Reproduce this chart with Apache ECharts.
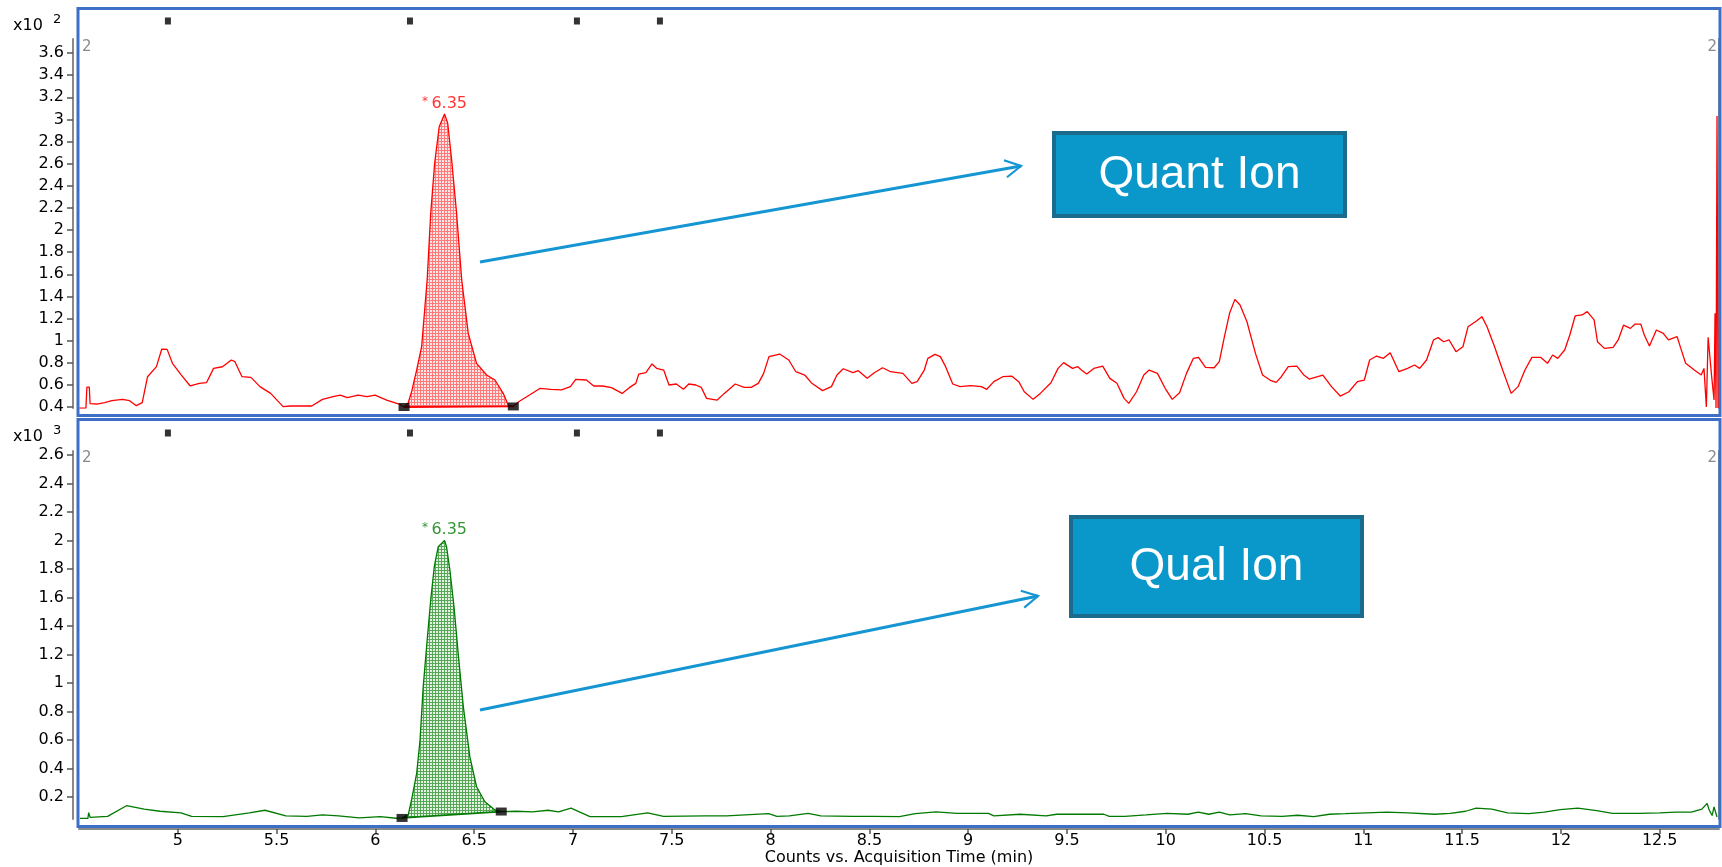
<!DOCTYPE html>
<html>
<head>
<meta charset="utf-8">
<title>Quant / Qual ion chromatograms</title>
<script src="https://cdn.jsdelivr.net/npm/echarts@6.0.0/dist/echarts.min.js"></script>
<style>
  html, body { margin: 0; padding: 0; background: #ffffff; }
  #chart { width: 1722px; height: 867px; }
</style>
</head>
<body>
<div id="chart"></div>
<script>
// ---- Quant ion trace (counts x10^2 vs. acquisition time, min) ----
const quantTime = [
  4.502, 4.535, 4.540, 4.552, 4.556, 4.59, 4.63, 4.666, 4.72, 4.756, 4.79, 4.82, 4.847, 4.892, 4.919, 4.946,
  4.973, 5.018, 5.063, 5.109, 5.145, 5.181, 5.226, 5.271, 5.289, 5.325, 5.37, 5.416, 5.47, 5.533, 5.57, 5.678,
  5.732, 5.786, 5.822, 5.858, 5.913, 5.958, 5.998, 6.057, 6.12, 6.145, 6.166, 6.185, 6.209, 6.234, 6.262, 6.28,
  6.30, 6.323, 6.35, 6.366, 6.386, 6.411, 6.437, 6.47, 6.512, 6.563, 6.605, 6.647, 6.672, 6.698, 6.725, 6.78,
  6.834, 6.888, 6.942, 6.987, 7.014, 7.068, 7.105, 7.15, 7.195, 7.249, 7.285, 7.318, 7.333, 7.369, 7.40, 7.423,
  7.459, 7.486, 7.523, 7.559, 7.586, 7.622, 7.649, 7.676, 7.73, 7.766, 7.821, 7.866, 7.902, 7.938, 7.965, 7.992,
  8.046, 8.092, 8.128, 8.173, 8.209, 8.263, 8.308, 8.336, 8.368, 8.417, 8.444, 8.489, 8.525, 8.567, 8.607, 8.67,
  8.715, 8.742, 8.778, 8.796, 8.832, 8.859, 8.886, 8.922, 8.959, 9.013, 9.067, 9.094, 9.13, 9.175, 9.22, 9.256,
  9.284, 9.329, 9.365, 9.419, 9.455, 9.483, 9.528, 9.555, 9.573, 9.6, 9.636, 9.681, 9.717, 9.753, 9.789, 9.813,
  9.852, 9.889, 9.916, 9.958, 9.997, 10.033, 10.07, 10.105, 10.14, 10.166, 10.201, 10.245, 10.271, 10.297, 10.323, 10.35,
  10.376, 10.411, 10.454, 10.49, 10.533, 10.559, 10.585, 10.62, 10.664, 10.699, 10.726, 10.769, 10.795, 10.839, 10.883, 10.927,
  10.97, 11.005, 11.032, 11.067, 11.102, 11.136, 11.18, 11.224, 11.259, 11.285, 11.32, 11.355, 11.378, 11.407, 11.434, 11.469,
  11.504, 11.53, 11.574, 11.6, 11.626, 11.661, 11.705, 11.748, 11.783, 11.818, 11.853, 11.897, 11.932, 11.958, 11.984, 12.019,
  12.045, 12.072, 12.107, 12.133, 12.168, 12.185, 12.22, 12.264, 12.29, 12.317, 12.352, 12.375, 12.404, 12.422, 12.448, 12.483,
  12.518, 12.544, 12.588, 12.605, 12.631, 12.675, 12.71, 12.724, 12.736, 12.745, 12.754, 12.763, 12.775, 12.78, 12.785, 12.79,
  12.795
];
const quantCounts = [
  0.39, 0.39, 0.58, 0.58, 0.43, 0.427, 0.44, 0.457, 0.469, 0.457, 0.412, 0.44, 0.674, 0.765, 0.924, 0.921,
  0.795, 0.689, 0.59, 0.614, 0.62, 0.749, 0.764, 0.825, 0.81, 0.674, 0.668, 0.584, 0.523, 0.403, 0.409, 0.409,
  0.469, 0.493, 0.508, 0.484, 0.508, 0.493, 0.508, 0.463, 0.427, 0.40, 0.436, 0.55, 0.735, 0.945, 1.548, 2.15,
  2.606, 2.934, 3.05, 2.965, 2.633, 2.15, 1.548, 1.066, 0.795, 0.689, 0.644, 0.524, 0.418, 0.405, 0.448, 0.508,
  0.569, 0.56, 0.554, 0.584, 0.65, 0.644, 0.59, 0.59, 0.575, 0.523, 0.575, 0.614, 0.698, 0.71, 0.789, 0.75,
  0.734, 0.599, 0.608, 0.56, 0.608, 0.599, 0.578, 0.478, 0.463, 0.523, 0.608, 0.578, 0.578, 0.614, 0.704, 0.855,
  0.879, 0.825, 0.719, 0.689, 0.614, 0.548, 0.584, 0.689, 0.746, 0.71, 0.728, 0.659, 0.71, 0.755, 0.719, 0.704,
  0.614, 0.629, 0.734, 0.84, 0.876, 0.855, 0.765, 0.608, 0.584, 0.593, 0.584, 0.56, 0.629, 0.674, 0.68, 0.629,
  0.538, 0.469, 0.523, 0.62, 0.749, 0.801, 0.749, 0.764, 0.734, 0.698, 0.749, 0.77, 0.659, 0.614, 0.478, 0.433,
  0.538, 0.689, 0.734, 0.704, 0.569, 0.469, 0.529, 0.704, 0.84, 0.849, 0.758, 0.755, 0.81, 1.036, 1.247, 1.373,
  1.322, 1.171, 0.885, 0.689, 0.638, 0.623, 0.674, 0.765, 0.77, 0.689, 0.653, 0.674, 0.689, 0.584, 0.499, 0.538,
  0.629, 0.644, 0.825, 0.861, 0.84, 0.891, 0.719, 0.749, 0.78, 0.749, 0.825, 1.006, 1.027, 0.99, 1.006, 0.9,
  0.945, 1.126, 1.18, 1.217, 1.126, 0.96, 0.734, 0.523, 0.584, 0.734, 0.849, 0.849, 0.795, 0.87, 0.84, 0.915,
  1.051, 1.223, 1.232, 1.262, 1.187, 0.99, 0.93, 0.939, 1.006, 1.141, 1.111, 1.15, 1.15, 1.051, 0.951, 1.096,
  1.066, 1.006, 1.036, 0.939, 0.795, 0.734, 0.689, 0.749, 0.40, 1.03, 1.02, 0.674, 0.463, 1.247, 0.39, 3.03,
  0.39
];

// ---- Qual ion trace (counts x10^3 vs. acquisition time, min) ----
const qualTime = [
  4.505, 4.545, 4.549, 4.556, 4.645, 4.74, 4.83, 4.91, 5.016, 5.07, 5.229, 5.362, 5.441, 5.547, 5.653, 5.733,
  5.813, 5.919, 6.025, 6.104, 6.135, 6.166, 6.183, 6.209, 6.226, 6.242, 6.262, 6.28, 6.298, 6.318, 6.35, 6.36,
  6.377, 6.398, 6.419, 6.445, 6.478, 6.512, 6.554, 6.605, 6.637, 6.715, 6.794, 6.874, 6.927, 6.99, 7.086, 7.245,
  7.378, 7.458, 7.67, 7.777, 7.99, 8.032, 8.095, 8.19, 8.254, 8.413, 8.52, 8.652, 8.732, 8.838, 8.944, 9.103,
  9.13, 9.263, 9.395, 9.448, 9.687, 9.714, 9.793, 9.9, 10.006, 10.112, 10.165, 10.218, 10.271, 10.324, 10.404, 10.483,
  10.589, 10.669, 10.749, 10.828, 10.908, 11.014, 11.12, 11.226, 11.36, 11.44, 11.518, 11.571, 11.65, 11.73, 11.836, 11.916,
  11.996, 12.086, 12.181, 12.261, 12.394, 12.5, 12.58, 12.66, 12.713, 12.74, 12.75, 12.765, 12.775, 12.79
];
const qualCounts = [
  0.05, 0.05, 0.09, 0.057, 0.064, 0.139, 0.115, 0.10, 0.089, 0.064, 0.062, 0.089, 0.107, 0.068, 0.064, 0.074,
  0.068, 0.053, 0.062, 0.051, 0.053, 0.074, 0.179, 0.366, 0.60, 0.974, 1.30, 1.582, 1.816, 1.957, 2.0, 1.957,
  1.793, 1.535, 1.208, 0.834, 0.483, 0.272, 0.167, 0.109, 0.098, 0.10, 0.096, 0.107, 0.096, 0.122, 0.062, 0.062,
  0.089, 0.064, 0.068, 0.068, 0.083, 0.064, 0.068, 0.085, 0.068, 0.064, 0.064, 0.062, 0.083, 0.096, 0.085, 0.085,
  0.068, 0.079, 0.068, 0.079, 0.079, 0.064, 0.064, 0.074, 0.085, 0.079, 0.094, 0.079, 0.094, 0.074, 0.083, 0.068,
  0.064, 0.072, 0.062, 0.079, 0.083, 0.089, 0.094, 0.089, 0.079, 0.085, 0.10, 0.122, 0.115, 0.089, 0.083, 0.094,
  0.111, 0.122, 0.105, 0.085, 0.085, 0.089, 0.094, 0.094, 0.115, 0.154, 0.11, 0.07, 0.13, 0.06
];

// Integration baselines (start / end of the integrated peak)
const quantBaseline = [[6.145, 0.40], [6.698, 0.405]];
const qualBaseline = [[6.135, 0.053], [6.637, 0.098]];

// Peak apex (retention time, height) and its annotation
const quantApex = [6.35, 3.05];
const qualApex = [6.35, 2.0];
const apexLabel = '6.35';

// Time-segment markers shown along the top of each panel
const segmentTimes = [4.95, 6.175, 7.02, 7.44];

// Axis ticks
const timeTicks = [5, 5.5, 6, 6.5, 7, 7.5, 8, 8.5, 9, 9.5, 10, 10.5, 11, 11.5, 12, 12.5];
const quantTicks = [0.4, 0.6, 0.8, 1, 1.2, 1.4, 1.6, 1.8, 2, 2.2, 2.4, 2.6, 2.8, 3, 3.2, 3.4, 3.6];
const qualTicks = [0.2, 0.4, 0.6, 0.8, 1, 1.2, 1.4, 1.6, 1.8, 2, 2.2, 2.4, 2.6];

// ---------------------------------------------------------------
const FONT = '"DejaVu Sans", Verdana, sans-serif';
const AXIS_GREY = '#8a8a8a';
const FRAME_BLUE = '#3d6fc7';
const ARROW_BLUE = '#1596d2';

const zip = (a, b) => a.map((t, i) => [t, b[i]]);

function hatch(bg, line) {
  const c = document.createElement('canvas');
  c.width = 3; c.height = 3;
  const g = c.getContext('2d');
  g.fillStyle = bg; g.fillRect(0, 0, 3, 3);
  g.fillStyle = line; g.fillRect(0, 0, 3, 1); g.fillRect(0, 0, 1, 3);
  return { image: c, repeat: 'repeat' };
}

// Polygon between the trace and the integration baseline
function peakArea(times, vals, base, fill) {
  return function (params, api) {
    const pts = [api.coord(base[0])];
    for (let i = 0; i < times.length; i++) {
      if (times[i] > base[0][0] && times[i] < base[1][0]) pts.push(api.coord([times[i], vals[i]]));
    }
    pts.push(api.coord(base[1]));
    return { type: 'polygon', shape: { points: pts }, style: { fill: fill, stroke: null } };
  };
}

const fmtTick = v => String(+(+v).toFixed(1));

function leftAxis(grid, min, max, ticks) {
  return {
    type: 'value', gridIndex: grid, position: 'left', min: min, max: max, offset: 6,
    axisLine: { show: true, lineStyle: { color: AXIS_GREY, width: 2 } },
    axisTick: { show: true, inside: false, length: 6, customValues: ticks, lineStyle: { color: '#555', width: 1.5 } },
    axisLabel: { show: true, customValues: ticks, margin: 9, color: '#000', fontFamily: FONT, fontSize: 16, formatter: fmtTick },
    splitLine: { show: false }
  };
}
function rightAxis(grid, min, max) {
  return {
    type: 'value', gridIndex: grid, position: 'right', min: min, max: max,
    axisLine: { show: true, lineStyle: { color: AXIS_GREY, width: 2 } },
    axisTick: { show: false }, axisLabel: { show: false }, splitLine: { show: false }
  };
}

const Q_MIN = 0.391, Q_MAX = 3.727;
const L_MIN = 0.0456, L_MAX = 2.628;

function tracePanel(xi, yi, times, vals, base, apex, color, fillPattern) {
  return [
    {
      type: 'custom', coordinateSystem: 'cartesian2d', xAxisIndex: xi, yAxisIndex: yi,
      data: [base[0]], renderItem: peakArea(times, vals, base, fillPattern), z: 2, silent: true
    },
    {
      type: 'line', xAxisIndex: xi, yAxisIndex: yi, data: zip(times, vals),
      showSymbol: false, symbol: 'none', lineStyle: { color: color, width: 1.3 }, z: 3, animation: false
    },
    {
      type: 'line', xAxisIndex: xi, yAxisIndex: yi, data: base,
      showSymbol: false, symbol: 'none', lineStyle: { color: color, width: 1.8 }, z: 3, animation: false
    },
    {
      type: 'scatter', xAxisIndex: xi, yAxisIndex: yi, data: base,
      symbol: 'rect', symbolSize: [11, 8], itemStyle: { color: '#000' }, z: 4, clip: false
    },
    {
      type: 'scatter', xAxisIndex: xi, yAxisIndex: yi, data: [apex],
      symbolSize: 1, itemStyle: { color: 'rgba(0,0,0,0)' }, z: 4,
      label: {
        show: true, position: 'top', distance: 2,
        formatter: '{s|*} {n|' + apexLabel + '}',
        rich: {
          s: { fontFamily: FONT, fontSize: 12, color: color, verticalAlign: 'top', padding: [0, 0, 4, 0] },
          n: { fontFamily: FONT, fontSize: 16, color: color }
        }
      }
    },
    {
      type: 'scatter', xAxisIndex: xi, yAxisIndex: yi,
      data: segmentTimes.map(t => [t, yi === 0 ? Q_MAX : L_MAX]),
      symbol: 'rect', symbolSize: [6, 7], symbolOffset: [0, -18], itemStyle: { color: '#000' }, clip: false, z: 4
    }
  ];
}

// Annotation arrow: shaft plus an open chevron head
function arrow(x1, y1, x2, y2) {
  const a = Math.atan2(y2 - y1, x2 - x1), L = 18, s = 0.5;
  return [
    { type: 'line', shape: { x1: x1, y1: y1, x2: x2, y2: y2 }, style: { stroke: ARROW_BLUE, lineWidth: 3 }, z: 10 },
    {
      type: 'polyline',
      shape: { points: [
        [x2 - L * Math.cos(a - s), y2 - L * Math.sin(a - s)], [x2, y2],
        [x2 - L * Math.cos(a + s), y2 - L * Math.sin(a + s)]
      ] },
      style: { stroke: ARROW_BLUE, lineWidth: 2.2, fill: null }, z: 10
    }
  ];
}

function ionBox(x, y, w, h, text) {
  return [
    { type: 'rect', shape: { x: x, y: y, width: w, height: h },
      style: { fill: '#0a98cb', stroke: '#1b6b8c', lineWidth: 4 }, z: 10 },
    { type: 'text', x: x + w / 2, y: y + h / 2 + 1, z: 11,
      style: { text: text, fill: '#ffffff', font: '46px "Liberation Sans", Arial, sans-serif', align: 'center', verticalAlign: 'middle' } }
  ];
}

function label(x, y, text, size, color, align) {
  return { type: 'text', x: x, y: y, z: 10,
    style: { text: text, fill: color, font: size + 'px ' + FONT, align: align || 'left', verticalAlign: 'middle' } };
}

const chart = echarts.init(document.getElementById('chart'), null, { renderer: 'canvas' });

chart.setOption({
  backgroundColor: '#ffffff',
  animation: false,
  grid: [
    { left: 79, right: 3, top: 39, height: 369 },
    { left: 79, right: 3, top: 451, height: 368 }
  ],
  xAxis: [
    { type: 'value', gridIndex: 0, min: 4.5, max: 12.8, show: false, splitLine: { show: false } },
    {
      type: 'value', gridIndex: 1, min: 4.5, max: 12.8, offset: 10,
      name: 'Counts vs. Acquisition Time (min)', nameLocation: 'middle', nameGap: 20,
      nameTextStyle: { color: '#000', fontFamily: FONT, fontSize: 16 },
      axisLine: { show: true, lineStyle: { color: AXIS_GREY, width: 2 } },
      axisTick: { show: true, length: 5, customValues: timeTicks, lineStyle: { color: '#555', width: 1.5 } },
      axisLabel: { show: true, customValues: timeTicks, margin: 4, color: '#000', fontFamily: FONT, fontSize: 16, formatter: fmtTick },
      splitLine: { show: false }
    }
  ],
  yAxis: [
    leftAxis(0, Q_MIN, Q_MAX, quantTicks),
    rightAxis(0, Q_MIN, Q_MAX),
    leftAxis(1, L_MIN, L_MAX, qualTicks),
    rightAxis(1, L_MIN, L_MAX)
  ],
  series: [].concat(
    tracePanel(0, 0, quantTime, quantCounts, quantBaseline, quantApex, '#ff0000', hatch('#ffe6e6', '#ff7a7a')),
    tracePanel(1, 2, qualTime, qualCounts, qualBaseline, qualApex, '#007a00', hatch('#e4f2e4', '#56a856'))
  ),
  graphic: [].concat(
    [
      { type: 'rect', shape: { x: 78, y: 8.5, width: 1642, height: 407 }, style: { fill: null, stroke: FRAME_BLUE, lineWidth: 3 }, z: 1, silent: true },
      { type: 'rect', shape: { x: 78, y: 419.5, width: 1642, height: 407 }, style: { fill: null, stroke: FRAME_BLUE, lineWidth: 3 }, z: 1, silent: true },
      label(13, 26, 'x10', 16, '#000'),
      label(53, 20, '2', 13, '#000'),
      label(13, 437, 'x10', 16, '#000'),
      label(53, 431, '3', 13, '#000'),
      label(82, 47, '2', 15, AXIS_GREY),
      label(1717, 47, '2', 15, AXIS_GREY, 'right'),
      label(82, 458, '2', 15, AXIS_GREY),
      label(1717, 458, '2', 15, AXIS_GREY, 'right')
    ],
    arrow(480, 262, 1021, 166),
    arrow(480, 710, 1038, 596),
    ionBox(1054, 133, 291, 83, 'Quant Ion'),
    ionBox(1071, 517, 291, 99, 'Qual Ion')
  )
});
</script>
</body>
</html>
